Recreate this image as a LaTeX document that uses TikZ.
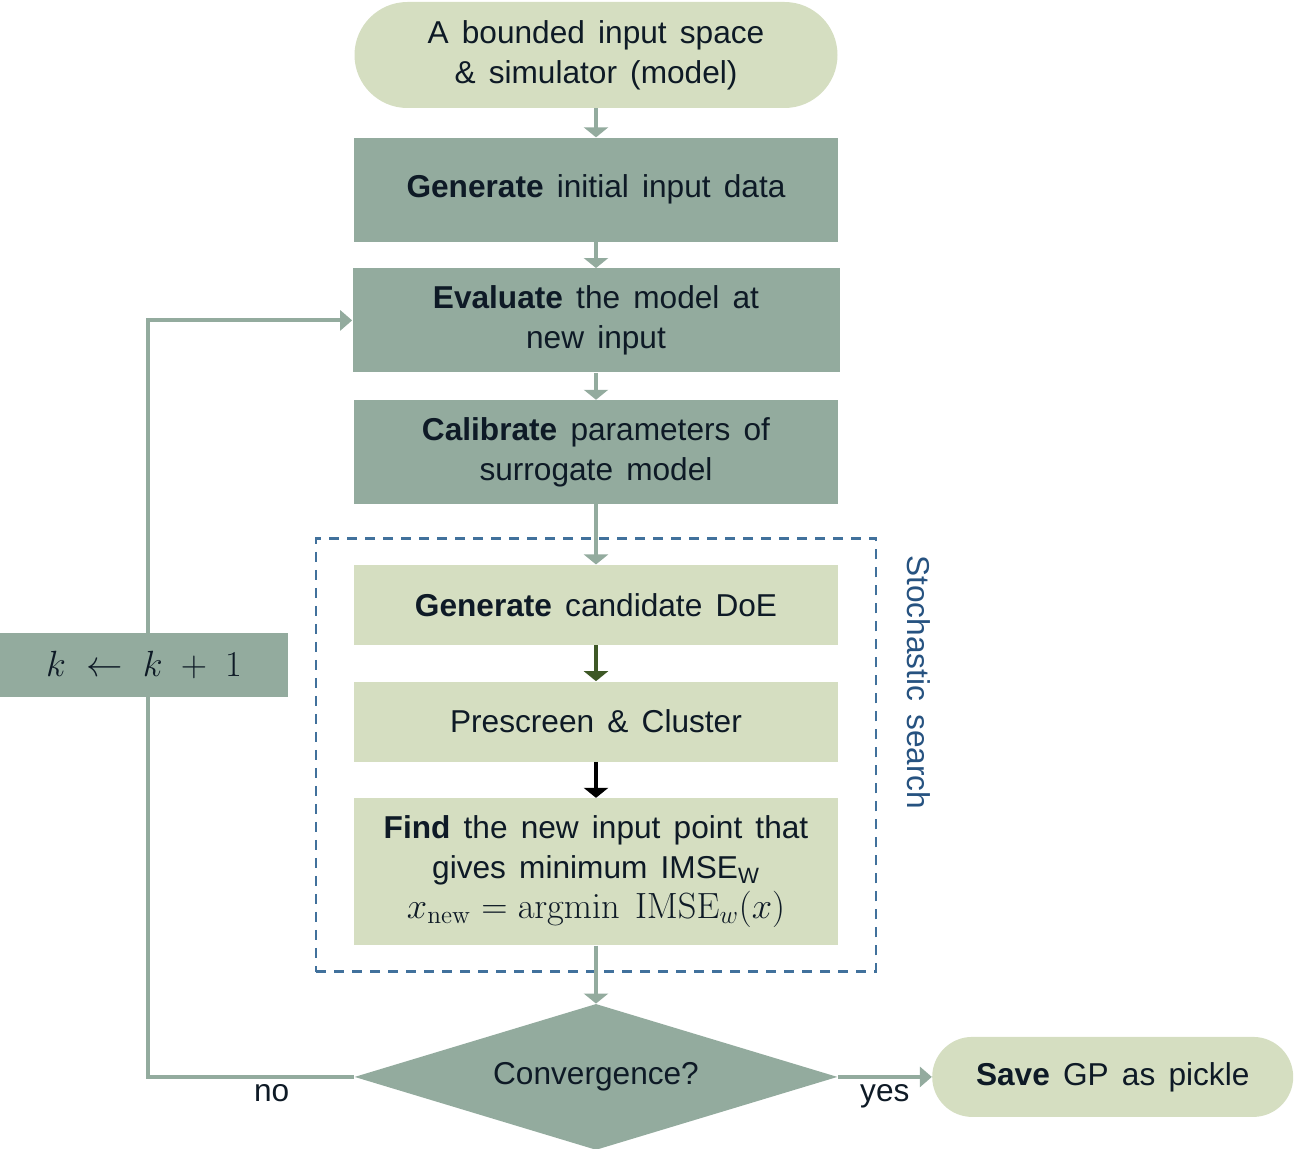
\documentclass[tikz,border=0pt]{standalone}
\usepackage[no-math]{fontspec}
\setmainfont{Liberation Sans}[WordSpace=1.5]
\usepackage{xcolor}
\usetikzlibrary{shapes.geometric,positioning,fit,calc,arrows.meta,backgrounds}

\definecolor{boxdark}{RGB}{147,171,158}
\definecolor{boxlight}{RGB}{213,222,193}
\definecolor{textdark}{RGB}{14,26,38}
\definecolor{searchblue}{RGB}{65,113,156}
\definecolor{searchtext}{RGB}{38,82,128}
\definecolor{arrowolive}{RGB}{62,88,38}

\begin{document}
\begin{tikzpicture}[font=\fontsize{18}{22.7}\selectfont, text=textdark,
    >={Triangle[width=0.48cm,length=0.2cm]},
    dark box/.style={rectangle, fill=boxdark, minimum width=9.68cm, minimum height=2.08cm, align=center, inner sep=0pt},
    light box/.style={rectangle, fill=boxlight, minimum width=9.68cm, minimum height=1.6cm, align=center, inner sep=0pt},
    terminal/.style={rectangle, fill=boxlight, rounded corners=#1, align=center, inner sep=0pt},
    decision/.style={diamond, fill=boxdark, shape aspect=3.3, minimum width=9.66cm, minimum height=2.92cm, inner sep=0pt},
    search frame/.style={draw=searchblue, line width=1.4pt, dash pattern=on 0.2cm off 0.16cm, inner xsep=0.75cm, inner ysep=0.52cm},
    loop line/.style={draw=boxdark, line width=2.3pt, -{Triangle[width=0.4cm,length=0.24cm]}}]

    \useasboundingbox (0,0) rectangle (25.88,-22.98);

    \node[terminal=1.06cm, minimum width=9.66cm, minimum height=2.12cm] (start) at (11.92,-1.1) {A bounded input space\\\& simulator (model)};
    \node[dark box] (gen) [below = 0.58cm of start] {\textbf{Generate} initial input data};
    \node[dark box, minimum width=9.74cm] (eval) [below = 0.52cm of gen] {\textbf{Evaluate} the model at\\new input};
    \node[dark box] (calib) [below = 0.54cm of eval] {\textbf{Calibrate} parameters of\\surrogate model};
    \node[light box] (cand) [below = 1.2cm of calib] {\textbf{Generate} candidate DoE};
    \node[light box] (screen) [below = 0.72cm of cand] {Prescreen \& Cluster};
    \node[light box, minimum height=2.94cm] (find) [below = 0.72cm of screen] {\textbf{Find} the new input point that\\gives minimum IMSE\textsubscript{W}\\{\fontsize{21}{22.7}\selectfont$x_{\mathrm{new}} = \mathrm{argmin}\ \mathrm{IMSE}_w(x)$}};
    \node[decision] (conv) [below = 1.16cm of find] {Convergence?};
    \node[terminal=0.8cm, minimum width=7.22cm, minimum height=1.6cm] (save) [right = 1.88cm of conv] {\textbf{Save} GP as pickle};
    \node[rectangle, fill=boxdark, minimum width=5.76cm, minimum height=1.28cm, inner sep=0pt, font=\fontsize{20}{24}\selectfont] (kbox) at (2.88,-13.3) {$k\;\leftarrow\;k\;+\;1$};

    \node[search frame, fit=(cand)(find)] (search) {};
    \node[rotate=-90, text=searchtext] (stoch) at ($(search.north east)+(0.84cm,-2.9cm)$) {Stochastic search};

    \path[every edge/.style={draw=boxdark, line width=2.8pt, ->}]
        (start) edge (gen)
        (gen) edge (eval)
        (eval) edge (calib)
        (calib) edge (cand)
        (cand) edge[draw=arrowolive] (screen)
        (screen) edge[draw=black] (find)
        (find) edge (conv)
    ;

    \draw[loop line] (conv.east) -- node[below]{yes} (save.west);

    % loop back to the model evaluation
    \coordinate (turn) at ([xshift=0.08cm]kbox.center |- conv.west);
    \begin{scope}[on background layer]
        \draw[loop line] (conv.west) -- node[below, pos=0.4]{no} (turn) |- (eval.west);
    \end{scope}
\end{tikzpicture}
\end{document}
